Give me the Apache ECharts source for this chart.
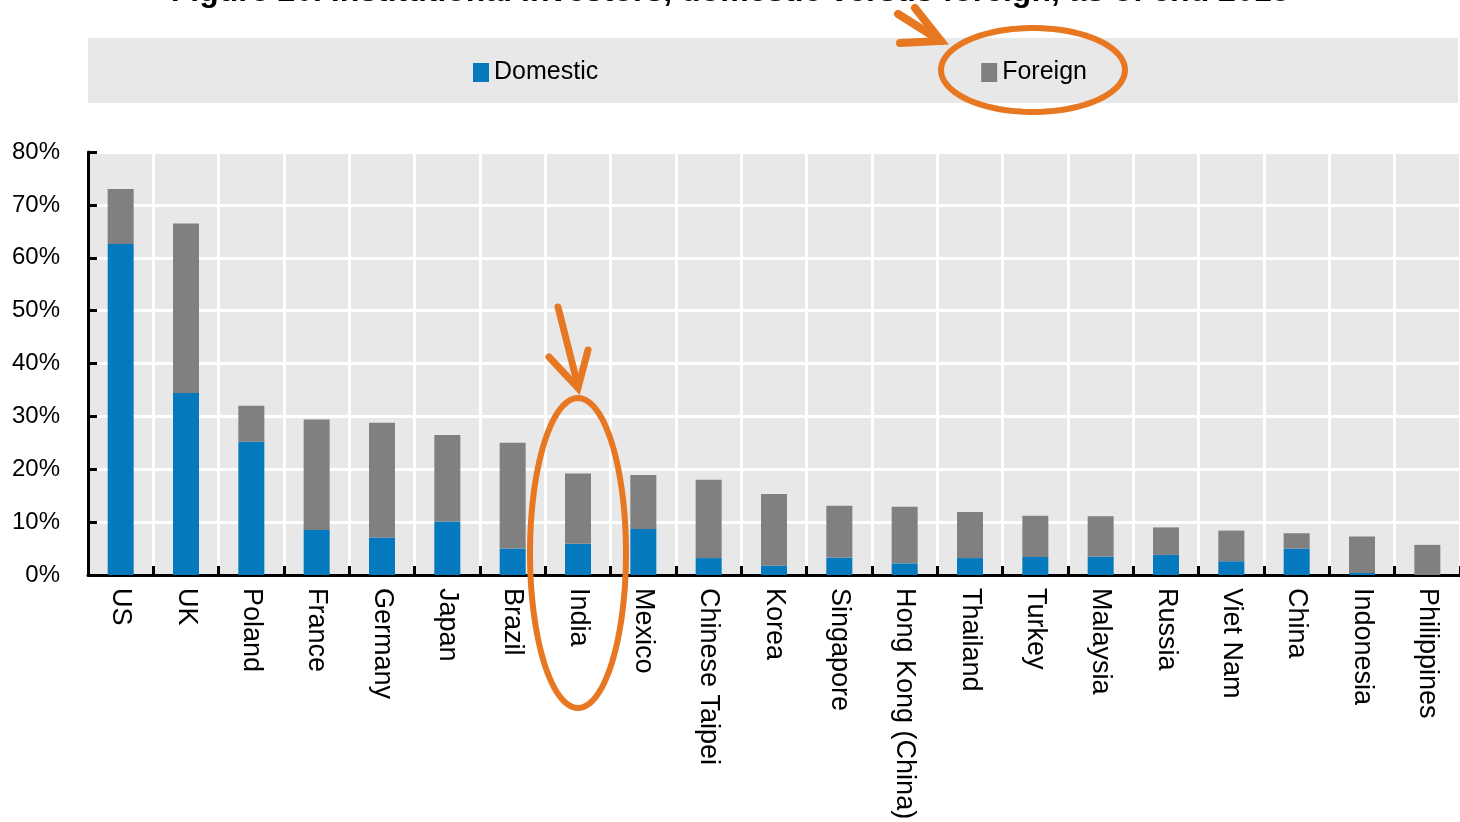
<!DOCTYPE html>
<html>
<head>
<meta charset="utf-8">
<script src="https://cdn.jsdelivr.net/npm/echarts@6/dist/echarts.min.js"></script>
<style>
html,body{margin:0;padding:0;background:#fff;}
#chart{width:1460px;height:822px;}
</style>
</head>
<body>
<div id="chart"></div>
<script>
// ---- data ----
var titleText = 'Figure 20. Institutional investors, domestic versus foreign, as of end 2018';
var categories = ['US','UK','Poland','France','Germany','Japan','Brazil','India','Mexico','Chinese Taipei','Korea','Singapore','Hong Kong (China)','Thailand','Turkey','Malaysia','Russia','Viet Nam','China','Indonesia','Philippines'];
var domestic = [62.6,34.4,25.2,8.5,7.1,10.1,5.0,5.9,8.7,3.2,1.8,3.3,2.2,3.2,3.4,3.5,3.8,2.6,5.0,0.4,0.0];
var foreign  = [10.4,32.1,6.8,20.9,21.7,16.4,20.0,13.3,10.2,14.8,13.5,9.8,10.7,8.7,7.8,7.6,5.2,5.8,2.9,6.9,5.7];
var seriesNames = ['Domestic','Foreign'];
var yMin = 0, yMax = 80, yStep = 10;

var FONT = "'Liberation Sans', Arial, sans-serif";
var ORANGE = '#E87722';

var chart = echarts.init(document.getElementById('chart'), null, {renderer:'canvas'});

var option = {
  animation: false,
  backgroundColor: '#ffffff',
  title: {
    text: titleText,
    left: 'center',
    top: -24,
    padding: 0,
    textStyle: {fontFamily: FONT, fontSize: 32, fontWeight: 'bold', color: '#000'}
  },
  legend: {
    data: seriesNames,
    left: 473,
    top: 60,
    padding: 0,
    itemWidth: 16,
    itemHeight: 19,
    itemGap: 383,
    icon: 'rect',
    textStyle: {fontFamily: FONT, fontSize: 25, color: '#000'}
  },
  grid: {
    left: 88, right: 0, top: 152, bottom: 247,
    show: true, backgroundColor: '#e8e8e8', borderWidth: 0,
    containLabel: false,
    outerBoundsMode: 'none'
  },
  xAxis: {
    type: 'category',
    data: categories,
    boundaryGap: true,
    axisLine: {show: true, lineStyle: {color: '#000', width: 3}},
    axisTick: {show: true, inside: true, length: 9, interval: 0, lineStyle: {color: '#000', width: 3}},
    splitLine: {show: true, interval: 0, lineStyle: {color: '#ffffff', width: 3}},
    axisLabel: {
      interval: 0, rotate: -90, margin: 13,
      fontFamily: FONT, fontSize: 27, color: '#000'
    }
  },
  yAxis: {
    type: 'value',
    min: yMin, max: yMax, interval: yStep,
    axisLine: {show: true, lineStyle: {color: '#000', width: 3}},
    axisTick: {show: true, inside: true, length: 9, lineStyle: {color: '#000', width: 3}},
    splitLine: {show: true, lineStyle: {color: '#ffffff', width: 3}},
    axisLabel: {
      formatter: '{value}%', margin: 28,
      fontFamily: FONT, fontSize: 24, color: '#000'
    }
  },
  series: [
    {name: seriesNames[0], type: 'bar', stack: 'total', data: domestic, barWidth: 26,
     itemStyle: {color: '#0479BE'}},
    {name: seriesNames[1], type: 'bar', stack: 'total', data: foreign, barWidth: 26,
     itemStyle: {color: '#808080'}}
  ]
};
chart.setOption(option);

// ---- decorative annotations (legend band + hand-drawn orange marks) ----
function ellipsePoints(cx, cy, rx, ry, n) {
  var pts = [];
  for (var i = 0; i < n; i++) {
    var a = 2 * Math.PI * i / n;
    pts.push([cx + rx * Math.cos(a), cy + ry * Math.sin(a)]);
  }
  return pts;
}
var indiaX = chart.convertToPixel({xAxisIndex: 0}, 'India');

chart.setOption({
  graphic: [
    {type: 'rect', z: -10, shape: {x: 88, y: 38, width: 1370, height: 65}, style: {fill: '#e8e8e8'}, silent: true},
    // ellipse around Foreign legend
    {type: 'polygon', z: 100, shape: {points: ellipsePoints(1033, 70, 92, 42, 90)},
     style: {fill: 'none', stroke: ORANGE, lineWidth: 6}, silent: true},
    // arrow to legend ellipse
    {type: 'polyline', z: 100, shape: {points: [[898, 14], [941, 41]]},
     style: {stroke: ORANGE, lineWidth: 8, lineCap: 'round'}, silent: true},
    {type: 'polyline', z: 100, shape: {points: [[915, 8], [941, 41], [900, 43]]},
     style: {stroke: ORANGE, lineWidth: 8, lineCap: 'round', lineJoin: 'miter', fill: 'none'}, silent: true},
    // ellipse around India
    {type: 'polygon', z: 100, shape: {points: ellipsePoints(indiaX, 553, 48, 155, 120)},
     style: {fill: 'none', stroke: ORANGE, lineWidth: 6}, silent: true},
    // arrow to India
    {type: 'polyline', z: 100, shape: {points: [[indiaX - 20, 307], [indiaX, 386]]},
     style: {stroke: ORANGE, lineWidth: 7, lineCap: 'round'}, silent: true},
    {type: 'polyline', z: 100, shape: {points: [[indiaX - 29, 357], [indiaX, 388], [indiaX + 10, 350]]},
     style: {stroke: ORANGE, lineWidth: 7, lineCap: 'round', lineJoin: 'miter', fill: 'none'}, silent: true}
  ]
});
</script>
</body>
</html>
